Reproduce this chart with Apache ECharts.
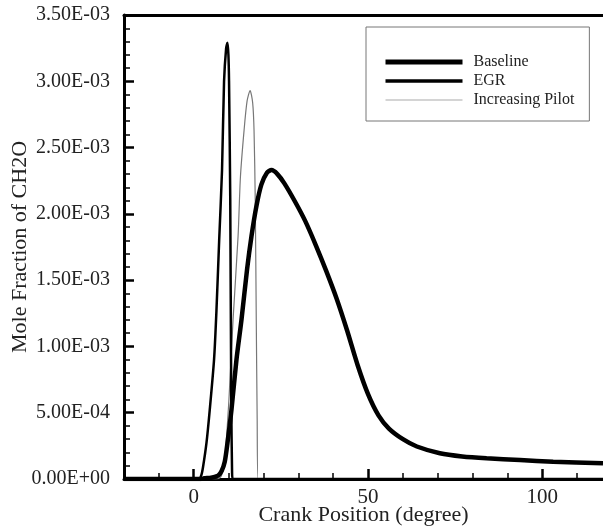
<!DOCTYPE html>
<html><head><meta charset="utf-8">
<script src="https://cdn.jsdelivr.net/npm/echarts@6/dist/echarts.min.js"></script>
<style>html,body{margin:0;padding:0;background:#fff}#c{width:603px;height:529px}</style>
</head><body><div id="c"></div>
<script>
const seriesNames = ['Baseline', 'EGR', 'Increasing Pilot'];
const baseline = [[-20,0],[2,0],[3,5e-6],[5,1e-5],[7,2.5e-5],[8,6e-5],[8.9,1.3e-4],[9.67,2.7e-4],[10.82,5.2e-4],[12.26,9.0e-4],[13.69,1.2e-3],[15.3,1.58e-3],[16.56,1.83e-3],[18.0,2.06e-3],[19.4,2.22e-3],[21,2.31e-3],[22.3,2.33e-3],[24,2.3e-3],[26,2.23e-3],[29,2.095e-3],[32,1.945e-3],[35,1.765e-3],[38,1.57e-3],[41,1.36e-3],[44,1.12e-3],[47,8.6e-4],[50,6.4e-4],[53,4.8e-4],[56,3.8e-4],[60,3.0e-4],[64,2.45e-4],[70.6,1.94e-4],[77,1.7e-4],[84,1.56e-4],[93.6,1.43e-4],[103.1,1.3e-4],[117.4,1.18e-4]];
const egr = [[-20,0],[1.5,0],[2.2,3e-5],[2.67,9e-5],[3.65,2.7e-4],[4.59,5.2e-4],[5.83,9.0e-4],[6.52,1.27e-3],[7.3,1.8e-3],[8.12,2.33e-3],[8.7,3.0e-3],[9.3,3.25e-3],[9.67,3.29e-3],[9.95,3.2e-3],[10.13,3.0e-3],[10.48,2.1e-3],[10.76,6e-4],[11.0,5e-5],[11.2,0],[117.4,0]];
const pilot = [[-20,0],[6.5,0],[7.5,1e-5],[8.0,3e-5],[8.9,1.4e-4],[10.1,6e-4],[11.28,1.2e-3],[12.72,1.83e-3],[13.4,2.28e-3],[14.44,2.63e-3],[15.3,2.85e-3],[16.17,2.93e-3],[16.9,2.84e-3],[17.3,2.63e-3],[17.65,2.1e-3],[17.94,1.2e-3],[18.2,4.5e-4],[18.45,0],[117.4,0]];
const xMajorTicks = [0, 50, 100];
const xMinorTicks = [-10, 10, 20, 30, 40, 60, 70, 80, 90, 110];
const xRange = [-20, 117.4];
const yRange = [0, 3.5e-3];
const yStep = 5e-4;

function fmt(v) {
  if (Math.abs(v) < 1e-12) return '0.00E+00';
  let e = Math.floor(Math.log10(Math.abs(v)) + 1e-9);
  let m = v / Math.pow(10, e);
  if (Math.round(m * 100) / 100 >= 10) { m /= 10; e++; }
  return m.toFixed(2) + 'E' + (e < 0 ? '-' : '+') + String(Math.abs(e)).padStart(2, '0');
}
const font = 'Liberation Serif';
const chart = echarts.init(document.getElementById('c'), null, {renderer: 'canvas'});
chart.setOption({
  backgroundColor: '#fff',
  animation: false,
  grid: {left: 124, top: 15, right: 0, bottom: 50, containLabel: false, outerBoundsMode: 'none'},
  legend: {
    data: [
      {name: seriesNames[0], lineStyle: {width: 5, color: '#000'}},
      {name: seriesNames[1], lineStyle: {width: 3.5, color: '#000'}},
      {name: seriesNames[2], lineStyle: {width: 1.2, color: '#aaa'}}
    ],
    orient: 'vertical', left: 366, top: 27,
    itemWidth: 77, itemHeight: 14, itemGap: 3,
    padding: [27, 15, 13, 17],
    borderColor: '#777', borderWidth: 1,
    itemStyle: {opacity: 0},
    textStyle: {fontFamily: font, fontSize: 16, color: '#222', padding: [0, 0, 0, 6]}
  },
  xAxis: [
    {type: 'value', min: xRange[0], max: xRange[1], position: 'bottom',
     name: 'Crank Position (degree)', nameLocation: 'middle', nameGap: 25, nameMoveOverlap: false,
     nameTextStyle: {fontFamily: font, fontSize: 22, color: '#222'},
     axisLine: {show: true, onZero: false, lineStyle: {color: '#000', width: 3}},
     axisTick: {show: true, inside: true, length: 10, customValues: xMajorTicks, lineStyle: {color: '#000', width: 2.5}},
     axisLabel: {customValues: xMajorTicks, fontFamily: font, fontSize: 21, color: '#222', margin: 8},
     splitLine: {show: false}},
    {type: 'value', min: xRange[0], max: xRange[1], position: 'bottom',
     axisLine: {show: false},
     axisTick: {show: true, inside: true, length: 6, customValues: xMinorTicks, lineStyle: {color: '#000', width: 1.5}},
     axisLabel: {show: false}, splitLine: {show: false}},
    {type: 'value', min: xRange[0], max: xRange[1], position: 'top',
     axisLine: {show: true, onZero: false, lineStyle: {color: '#000', width: 3}},
     axisTick: {show: false}, axisLabel: {show: false}, splitLine: {show: false}}
  ],
  yAxis: {
    type: 'value', min: yRange[0], max: yRange[1], interval: yStep,
    name: 'Mole Fraction of CH2O', nameLocation: 'middle', nameGap: 93, nameMoveOverlap: false,
    nameTextStyle: {fontFamily: font, fontSize: 22, color: '#222'},
    axisLine: {show: true, onZero: false, lineStyle: {color: '#000', width: 3}},
    axisTick: {show: true, inside: true, length: 10, lineStyle: {color: '#000', width: 2.5}},
    minorTick: {show: true, splitNumber: 5, length: 6, lineStyle: {color: '#000', width: 1.5}},
    axisLabel: {formatter: fmt, fontFamily: font, fontSize: 20, color: '#222', margin: 14},
    splitLine: {show: false}
  },
  series: [
    {name: seriesNames[0], type: 'line', data: baseline, symbol: 'none', smooth: 0.25,
     lineStyle: {color: '#000', width: 4.5}, itemStyle: {color: '#000'}, z: 4},
    {name: seriesNames[1], type: 'line', data: egr, symbol: 'none', smooth: 0.25,
     lineStyle: {color: '#000', width: 2.5}, itemStyle: {color: '#000'}, z: 3},
    {name: seriesNames[2], type: 'line', data: pilot, symbol: 'none', smooth: 0.25,
     lineStyle: {color: '#777', width: 1.2}, itemStyle: {color: '#777'}, z: 2}
  ]
});
</script></body></html>
